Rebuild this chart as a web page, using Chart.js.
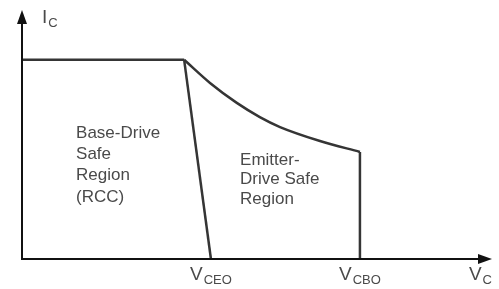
<!DOCTYPE html>
<html>
<head>
<meta charset="utf-8">
<script src="https://cdn.jsdelivr.net/npm/chart.js@4/dist/chart.umd.min.js"></script>
<style>
  html, body { margin: 0; padding: 0; background: #fff; }
  #wrap { width: 499px; height: 289px; }
</style>
</head>
<body>
<div id="wrap"><canvas id="soa"></canvas></div>
<script>
// values in arbitrary units, 0..100 on both axes
const iMax = 80;          // flat current limit
const vKnee = 34.5;       // where the flat limit ends
const vCEO = 40.2;
const vCBO = 71.9;
const curveV = [34.5, 40.0, 45.7, 50.6, 54.9, 63.4, 71.9];
const curveI = [80, 70.7, 62.7, 57.0, 53.0, 47.4, 43];

const baseText = ["Base-Drive", "Safe", "Region", "(RCC)"];
const emitterText = ["Emitter-", "Drive Safe", "Region"];
const tickNames = [["V", "CEO", vCEO], ["V", "CBO", vCBO]];

const lineColor = "#353535";
const textColor = "#4a4a4a";
const FONT = "'Liberation Sans', Arial, sans-serif";

function pts(xs, ys) {
  return xs.map((x, i) => ({ x: x, y: ys[i] }));
}

function seg(data, tension) {
  return {
    data: data,
    showLine: true,
    borderColor: lineColor,
    borderWidth: 2.5,
    pointRadius: 0,
    tension: tension || 0,
    cubicInterpolationMode: tension ? "monotone" : "default",
    clip: false
  };
}

// draws a main letter with a smaller subscript, x = left edge
function subLabel(ctx, x, y, main, sub, big, small) {
  ctx.font = big + "px " + FONT;
  ctx.fillText(main, x, y);
  const w = ctx.measureText(main).width;
  ctx.font = small + "px " + FONT;
  ctx.fillText(sub, x + w + 1, y + 5);
}

function subWidth(ctx, main, sub, big, small) {
  ctx.font = big + "px " + FONT;
  const w = ctx.measureText(main).width;
  ctx.font = small + "px " + FONT;
  return w + 1 + ctx.measureText(sub).width;
}

const axesPlugin = {
  id: "axesPlugin",
  afterDatasetsDraw(chart) {
    const ctx = chart.ctx;
    const xs = chart.scales.x, ys = chart.scales.y;
    const x0 = xs.getPixelForValue(0), y0 = ys.getPixelForValue(0);
    const xEnd = xs.getPixelForValue(100), yEnd = ys.getPixelForValue(100);

    ctx.save();
    ctx.strokeStyle = "#111";
    ctx.fillStyle = "#111";
    ctx.lineWidth = 2;
    ctx.beginPath();
    ctx.moveTo(x0, y0 + 1);
    ctx.lineTo(x0, yEnd + 8);
    ctx.moveTo(x0 - 1, y0);
    ctx.lineTo(xEnd - 8, y0);
    ctx.stroke();

    // arrow heads
    ctx.beginPath();
    ctx.moveTo(x0, yEnd);
    ctx.lineTo(x0 - 5, yEnd + 14);
    ctx.lineTo(x0 + 5, yEnd + 14);
    ctx.closePath();
    ctx.fill();
    ctx.beginPath();
    ctx.moveTo(xEnd, y0);
    ctx.lineTo(xEnd - 14, y0 - 5);
    ctx.lineTo(xEnd - 14, y0 + 5);
    ctx.closePath();
    ctx.fill();

    // axis names
    ctx.fillStyle = textColor;
    ctx.textBaseline = "middle";
    ctx.textAlign = "left";
    subLabel(ctx, x0 + 20, yEnd + 8, "I", "C", 19, 13);
    const wc = subWidth(ctx, "V", "C", 19, 13);
    subLabel(ctx, xEnd - wc, y0 + 16, "V", "C", 19, 13);

    // voltage marks under the axis
    tickNames.forEach(t => {
      const w = subWidth(ctx, t[0], t[1], 19, 13);
      subLabel(ctx, xs.getPixelForValue(t[2]) - w / 2, y0 + 16, t[0], t[1], 19, 13);
    });

    // region captions
    ctx.font = "17px " + FONT;
    let bx = xs.getPixelForValue(11.5), by = ys.getPixelForValue(50.6);
    baseText.forEach((s, i) => ctx.fillText(s, bx, by + i * 21.3));
    let ex = xs.getPixelForValue(46.4), ey = ys.getPixelForValue(39.8);
    emitterText.forEach((s, i) => ctx.fillText(s, ex, ey + i * 19.5));
    ctx.restore();
  }
};

new Chart(document.getElementById("soa"), {
  type: "scatter",
  data: {
    datasets: [
      seg([{ x: 0, y: iMax }, { x: vKnee, y: iMax }]),
      seg([{ x: vKnee, y: iMax }, { x: vCEO, y: 0 }]),
      seg(pts(curveV, curveI), 0.4),
      seg([{ x: vCBO, y: curveI[curveI.length - 1] }, { x: vCBO, y: 0 }])
    ]
  },
  options: {
    responsive: true,
    maintainAspectRatio: false,
    animation: false,
    layout: { padding: { left: 22, right: 7, top: 10, bottom: 30 } },
    plugins: { legend: { display: false }, tooltip: { enabled: false } },
    scales: {
      x: { type: "linear", min: 0, max: 100, display: false },
      y: { type: "linear", min: 0, max: 100, display: false }
    }
  },
  plugins: [axesPlugin]
});
</script>
</body>
</html>
